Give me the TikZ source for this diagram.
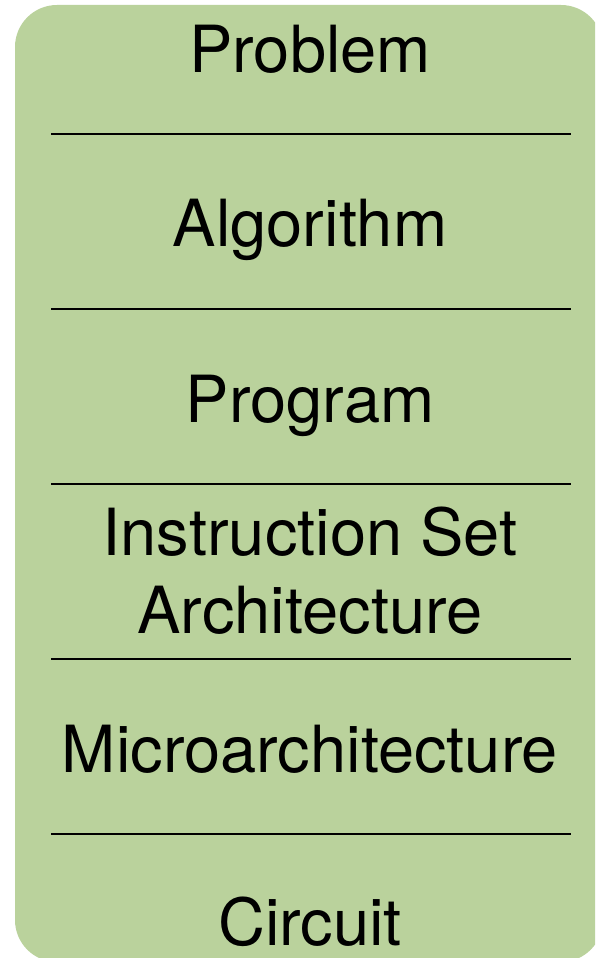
\documentclass[tikz,border=0pt]{standalone}
\usepackage{fontspec}
\setmainfont{TeX Gyre Heros}
\definecolor{layergreen}{RGB}{186,210,156}
\begin{document}
\begin{tikzpicture}[x=1pt,y=-1pt,
  label/.style={anchor=base,inner sep=0pt,font=\fontsize{65}{78}\selectfont,align=center,text=black},
  sep/.style={line width=2.7pt,draw=black}]
\useasboundingbox (0,0) rectangle (595,958);
\clip (0,0) rectangle (595,958);
\fill[layergreen,rounded corners=42pt] (15,5) rectangle (603,962);
\node[label] (problem) at (310,72) {Problem};
\node[label] (algorithm) at (310,246) {Algorithm};
\node[label] (program) at (310,422) {Program};
\node[label] (isa1) at (310,555) {Instruction Set};
\node[label] (isa2) at (310,633) {Architecture};
\node[label] (micro) at (310,772) {Microarchitecture};
\node[label] (circuit) at (310,945) {Circuit};
\foreach \yy in {134,309,484,659,834}
  \draw[sep] (51,\yy) -- (571,\yy);
\end{tikzpicture}
\end{document}
